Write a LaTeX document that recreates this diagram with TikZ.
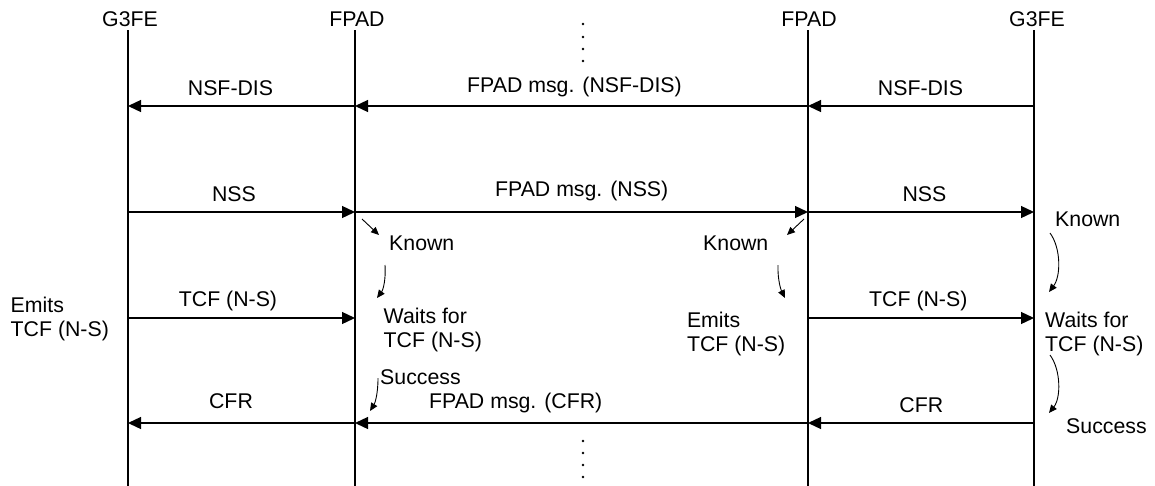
\documentclass[tikz,border=0pt]{standalone}
\usepackage{fontspec}
\setmainfont{Liberation Sans}
\usetikzlibrary{arrows.meta}
\begin{document}
\begin{tikzpicture}[x=1pt,y=-1pt,
  every node/.style={inner sep=0pt, font=\fontsize{21.3}{24.5}\selectfont},
  txt/.style={anchor=base},
  ltxt/.style={anchor=base west, align=left},
  life/.style={line width=1.2pt},
  msg/.style={line width=1.3pt, -{Triangle[length=13pt,width=12pt]}},
  notearrow/.style={line width=0.9pt, -{Triangle[length=8pt,width=7pt]}},
  ellip/.style={fill=black}
]
\useasboundingbox (0,0) rectangle (1155,485);

% lifelines
\coordinate (L1) at (128,30);
\coordinate (L2) at (355,30);
\coordinate (L3) at (808,30);
\coordinate (L4) at (1034,30);
\coordinate (B) at (0,486);
\foreach \l in {L1,L2,L3,L4} \draw[life] (\l) -- (\l |- B);

% headers
\node[txt] (h1) at (130,26.7) {G3FE};
\node[txt] (h2) at (357,26.7) {FPAD};
\node[txt] (h3) at (809,26.7) {FPAD};
\node[txt] (h4) at (1037,26.7) {G3FE};

% dots
\foreach \y in {24,37,49,61,441,453,465,477}
  \fill[ellip] (583,\y) circle (1.4);

% rows
\coordinate (r1) at (0,106);
\coordinate (r2) at (0,212);
\coordinate (r3) at (0,318);
\coordinate (r4) at (0,423);

% NSF-DIS
\draw[msg] (L4|-r1) -- (L3|-r1);
\draw[msg] (L3|-r1) -- (L2|-r1);
\draw[msg] (L2|-r1) -- (L1|-r1);
\node[txt] (m1a) at (230.5,95.7) {NSF-DIS};
\node[txt] (m1b) at (574.5,92) {FPAD msg. (NSF-DIS)};
\node[txt] (m1c) at (920.5,95.7) {NSF-DIS};

% NSS
\draw[msg] (L1|-r2) -- (L2|-r2);
\draw[msg] (L2|-r2) -- (L3|-r2);
\draw[msg] (L3|-r2) -- (L4|-r2);
\node[txt] (m2a) at (234,201) {NSS};
\node[txt] (m2b) at (581.7,196.7) {FPAD msg. (NSS)};
\node[txt] (m2c) at (924.5,201) {NSS};

% TCF
\draw[msg] (L1|-r3) -- (L2|-r3);
\draw[msg] (L3|-r3) -- (L4|-r3);
\node[txt] (m3a) at (228,306.7) {TCF (N-S)};
\node[txt] (m3c) at (918.3,306.7) {TCF (N-S)};

% CFR
\draw[msg] (L4|-r4) -- (L3|-r4);
\draw[msg] (L3|-r4) -- (L2|-r4);
\draw[msg] (L2|-r4) -- (L1|-r4);
\node[txt] (m4a) at (231,408.3) {CFR};
\node[txt] (m4b) at (515.7,408) {FPAD msg. (CFR)};
\node[txt] (m4c) at (921.3,412.7) {CFR};

% state notes (base anchor = baseline of last line)
\node[ltxt] (e1) at (10.5,336.7) {Emits\\TCF (N-S)};
\node[ltxt] (k2) at (389,250) {Known};
\node[ltxt] (w2) at (383.5,347.7) {Waits for\\TCF (N-S)};
\node[ltxt] (s2) at (380,384) {Success};
\node[ltxt] (k3) at (703,250) {Known};
\node[ltxt] (e3) at (686.8,351.7) {Emits\\TCF (N-S)};
\node[ltxt] (k4) at (1055,226.7) {Known};
\node[ltxt] (w4) at (1045,351.7) {Waits for\\TCF (N-S)};
\node[ltxt] (s4) at (1066,433) {Success};

% note arrows
\coordinate (a1s) at (362,219); \coordinate (a1e) at (379,235);
\draw[notearrow] (a1s) -- (a1e);
\coordinate (a2s) at (385,265); \coordinate (a2e) at (377,298);
\draw[notearrow] (a2s) .. controls (386,280) and (383,290) .. (a2e);
\coordinate (a3s) at (378,378); \coordinate (a3e) at (370,411);
\draw[notearrow] (a3s) .. controls (378,394) and (375,403) .. (a3e);
\coordinate (b1s) at (804,219); \coordinate (b1e) at (787,235);
\draw[notearrow] (b1s) -- (b1e);
\coordinate (b2s) at (778,265); \coordinate (b2e) at (785,298);
\draw[notearrow] (b2s) .. controls (777.5,280) and (781,290) .. (b2e);
\coordinate (c1s) at (1050,233); \coordinate (c1e) at (1049,292);
\draw[notearrow] (c1s) .. controls (1061,248) and (1061,276) .. (c1e);
\coordinate (c2s) at (1050,355); \coordinate (c2e) at (1049,413);
\draw[notearrow] (c2s) .. controls (1061,370) and (1061,398) .. (c2e);
\end{tikzpicture}
\end{document}
